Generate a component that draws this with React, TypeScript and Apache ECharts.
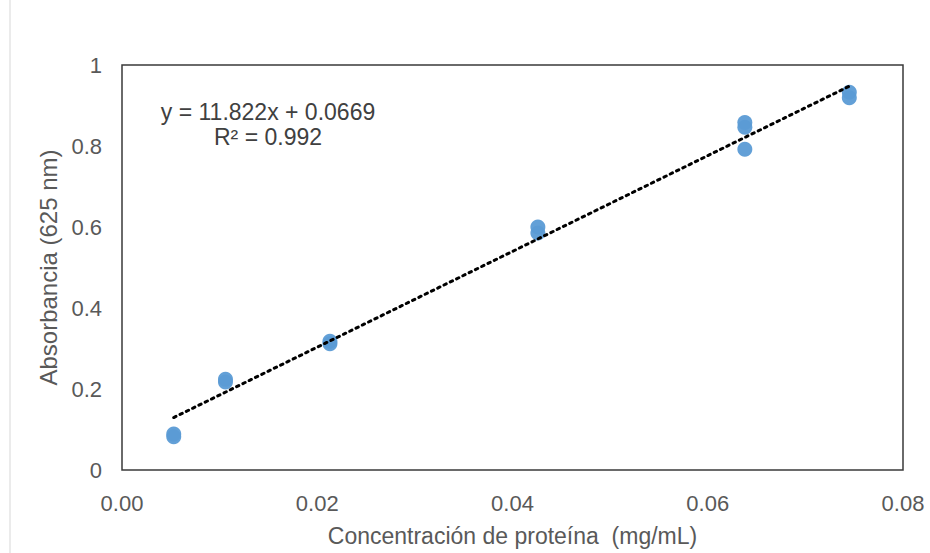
import React, { useEffect, useRef } from "react";
import * as echarts from "echarts";

const concentrations = [0.0053, 0.0053, 0.0106, 0.0106, 0.0213, 0.0213, 0.0426, 0.0426, 0.0638, 0.0638, 0.0638, 0.0745, 0.0745];
const absorbances = [0.082, 0.089, 0.217, 0.224, 0.312, 0.318, 0.585, 0.600, 0.846, 0.858, 0.792, 0.933, 0.919];
const slope = 11.822;
const intercept = 0.0669;
const trendX = [0.0053, 0.0745];
const equationLines = ["y = 11.822x + 0.0669", "R² = 0.992"];
const xTitle = "Concentración de proteína  (mg/mL)";
const yTitle = "Absorbancia (625 nm)";

export default function App() {
  const ref = useRef<HTMLDivElement>(null);
  useEffect(() => {
    if (!ref.current) return;
    const chart = echarts.init(ref.current, null, { renderer: "svg" });
    const font = "Liberation Sans, Arial, sans-serif";
    chart.setOption({
      animation: false,
      backgroundColor: "#ffffff",
      grid: { left: 122, right: 27, top: 65, bottom: 83, show: true, borderColor: "#3a3a3a", borderWidth: 1.5, backgroundColor: "transparent" },
      xAxis: {
        type: "value",
        min: 0,
        max: 0.08,
        interval: 0.02,
        name: xTitle,
        nameLocation: "middle",
        nameGap: 54,
        nameTextStyle: { fontFamily: font, fontSize: 23, color: "#595959" },
        axisLine: { show: false },
        axisTick: { show: false },
        splitLine: { show: false },
        axisLabel: { fontFamily: font, fontSize: 22, color: "#595959", margin: 22, formatter: (v: number) => v.toFixed(2) },
      },
      yAxis: {
        type: "value",
        min: 0,
        max: 1,
        interval: 0.2,
        name: yTitle,
        nameLocation: "middle",
        nameGap: 61,
        nameTextStyle: { fontFamily: font, fontSize: 24, color: "#595959" },
        axisLine: { show: false },
        axisTick: { show: false },
        splitLine: { show: false },
        axisLabel: { fontFamily: font, fontSize: 22, color: "#595959", margin: 20, formatter: (v: number) => (v === 0 || v === 1 ? String(v) : v.toFixed(1)) },
      },
      series: [
        {
          type: "line",
          data: trendX.map((x) => [x, slope * x + intercept]),
          symbol: "none",
          lineStyle: { color: "#000000", width: 3, type: [2.5, 4.5], cap: "round" },
          z: 3,
        },
        {
          type: "scatter",
          data: concentrations.map((x, i) => [x, absorbances[i]]),
          symbol: "circle",
          symbolSize: 15,
          itemStyle: { color: "#5b9bd5", opacity: 0.95 },
          z: 2,
        },
      ],
      graphic: [
        { type: "line", shape: { x1: 10, y1: 0, x2: 10, y2: 553 }, style: { stroke: "#e4e4e4", lineWidth: 1.5 } },
        { type: "text", x: 268, y: 112, style: { text: equationLines[0], font: `23px ${font}`, fill: "#404040", textAlign: "center", textVerticalAlign: "middle" } },
        { type: "text", x: 268, y: 137, style: { text: equationLines[1], font: `23px ${font}`, fill: "#404040", textAlign: "center", textVerticalAlign: "middle" } },
      ],
    });
    return () => chart.dispose();
  }, []);
  return <div ref={ref} style={{ position: "absolute", left: 0, top: 0, width: 930, height: 553 }} />;
}
